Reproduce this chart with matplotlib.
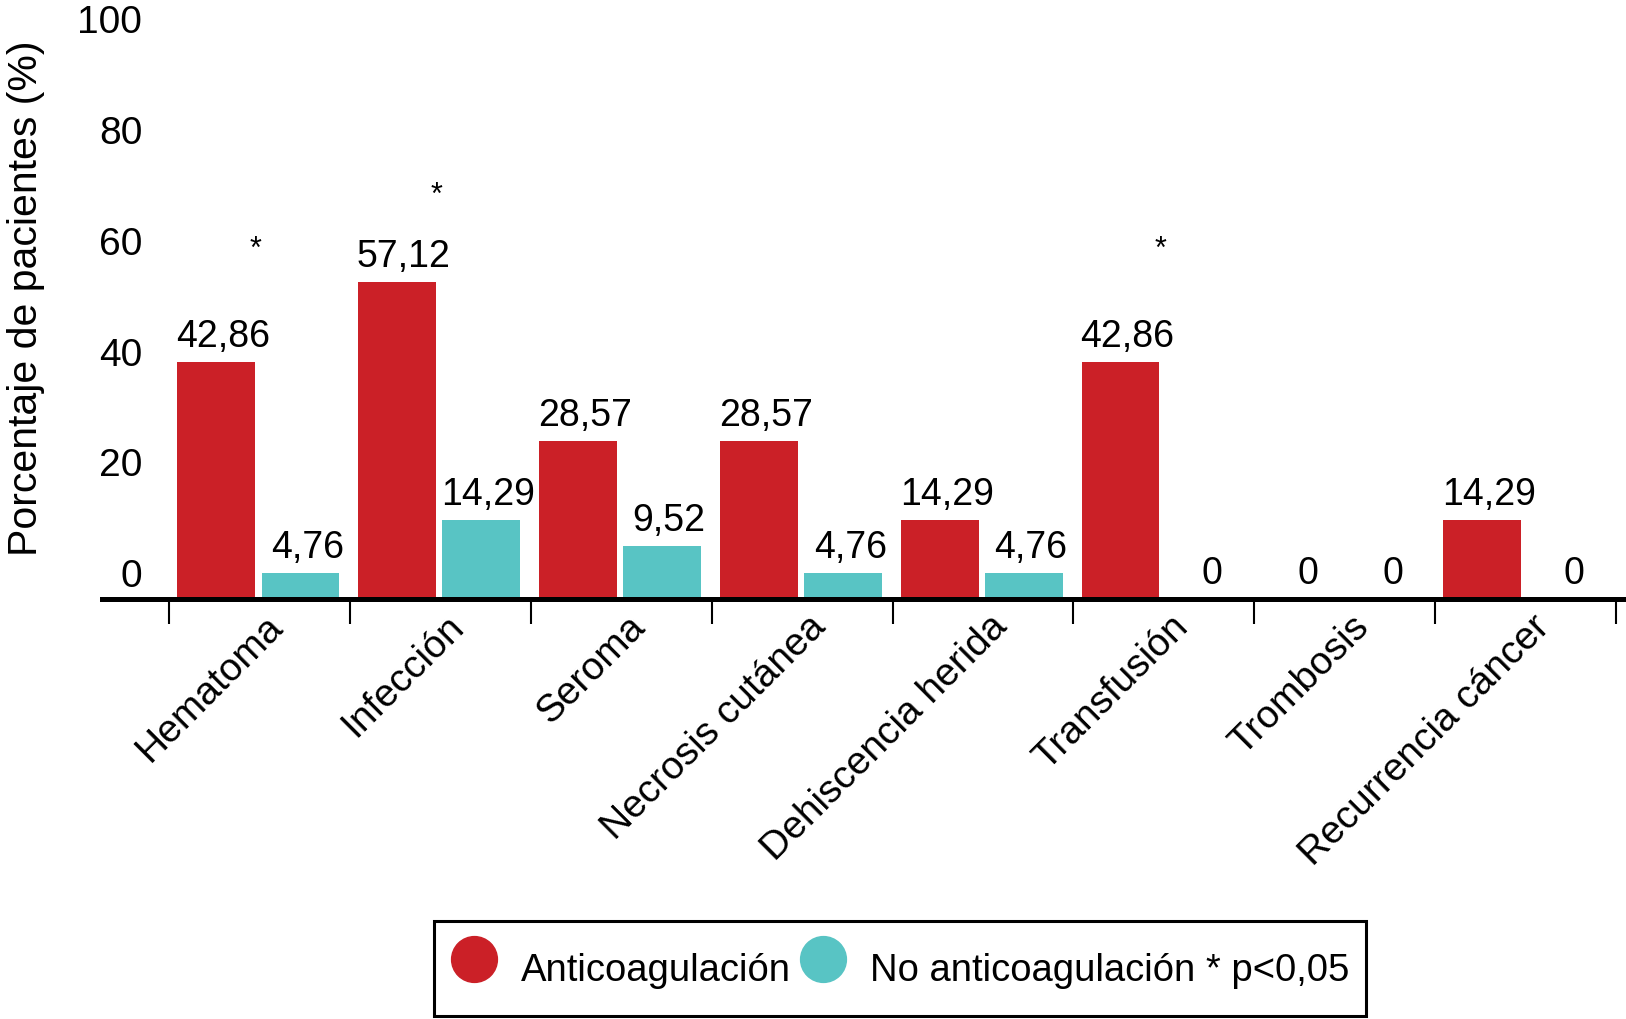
import matplotlib
matplotlib.use("Agg")
import matplotlib.pyplot as plt
from matplotlib.lines import Line2D
import numpy as np

plt.rcParams['font.family'] = ['Liberation Sans', 'DejaVu Sans']

# data
categories = ["Hematoma", "Infección", "Seroma", "Necrosis cutánea",
              "Dehiscencia herida", "Transfusión", "Trombosis", "Recurrencia cáncer"]
anticoag = [42.86, 57.12, 28.57, 28.57, 14.29, 42.86, 0, 14.29]
no_anticoag = [4.76, 14.29, 9.52, 4.76, 4.76, 0, 0, 0]
yticks = [0, 20, 40, 60, 80, 100]
# significance stars: (category index, height)
sig_idx = [0, 1, 5]
sig_y = [63, 72.8, 63]

red = '#CB2027'
teal = '#58C4C4'

fig = plt.figure(figsize=(16.26, 10.19), dpi=100)
ax = fig.add_axes([102/1626, 420/1019, 1524/1626, 599/1019])

x = np.arange(len(categories))
w = 0.43
b1 = ax.bar(x + 0.26, anticoag, w, color=red)
b2 = ax.bar(x + 0.727, no_anticoag, w, color=teal)

def fmt(v):
    return "0" if v == 0 else f"{v:.2f}".replace('.', ',')

for bars, vals in [(b1, anticoag), (b2, no_anticoag)]:
    for r, v in zip(bars, vals):
        ax.annotate(fmt(v), xy=(r.get_x() + r.get_width()/2, v),
                    xytext=(5, 10.8), textcoords='offset points',
                    ha='center', va='baseline', fontsize=27)

for i, y in zip(sig_idx, sig_y):
    ax.text(x[i] + 0.48, y, "*", ha='center', va='center', fontsize=22)

ax.set_xlim(-0.370, 8.054)
ax.set_ylim(0, 108.1)

for s in ['top', 'right', 'left']:
    ax.spines[s].set_visible(False)
ax.spines['bottom'].set_linewidth(3.6)

ax.set_yticks([])
for v in yticks:
    ax.annotate(str(v), xy=(0, v), xycoords=('axes fraction', 'data'),
                xytext=(29, 8.5), textcoords='offset points',
                ha='right', va='baseline', fontsize=28)

ax.set_xticks(np.arange(len(categories) + 1), minor=True)
ax.tick_params(axis='x', which='minor', length=18, width=1.5, direction='out')
ax.set_xticks(x + 0.6)
ax.set_xticklabels(categories, rotation=45, ha='right', va='center',
                   rotation_mode='anchor', fontsize=28)
ax.tick_params(axis='x', which='major', length=0, pad=16)

fig.text(26/1626, 1 - 298/1019, "Porcentaje de pacientes (%)", rotation=90,
         ha='center', va='center', fontsize=29.5)

handles = [Line2D([], [], marker='o', ls='', markersize=33, color=red),
           Line2D([], [], marker='o', ls='', markersize=33, color=teal)]
leg = fig.legend(handles, ["Anticoagulación", "No anticoagulación * p<0,05"],
                 loc='center', bbox_to_anchor=(900/1626, 1 - 968.5/1019),
                 ncol=2, fontsize=27.5, handlelength=1.22, handletextpad=0.62,
                 handleheight=2.1, columnspacing=0.21, borderpad=0.45,
                 fancybox=False, framealpha=1, edgecolor='black')
leg.get_frame().set_linewidth(2.2)

fig.savefig("out.png", dpi=100)
